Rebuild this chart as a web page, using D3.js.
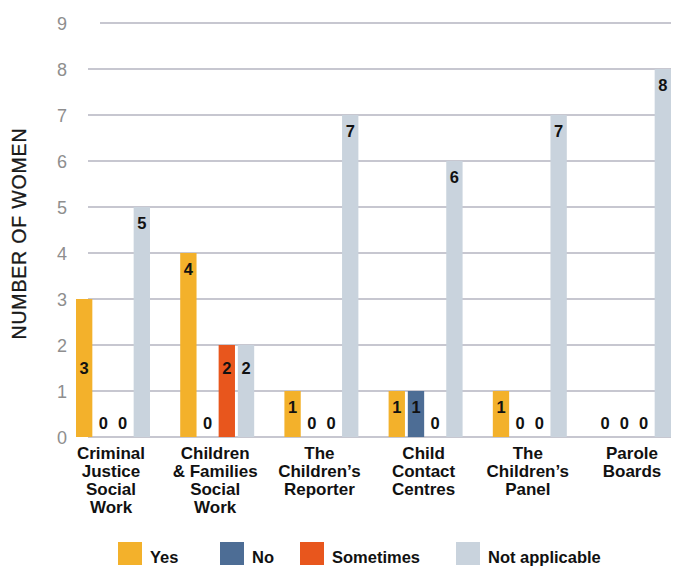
<!DOCTYPE html>
<html>
<head>
<meta charset="utf-8">
<script src="https://cdn.jsdelivr.net/npm/d3@7"></script>
<style>
  html, body { margin: 0; padding: 0; background: #fff; }
  svg { display: block; font-family: "Liberation Sans", Arial, Helvetica, sans-serif; }
</style>
</head>
<body>
<svg id="chart" width="683" height="568"></svg>
<script>
// Responses per service, one value per answer
const categories = [
  "Criminal\nJustice\nSocial\nWork",
  "Children\n& Families\nSocial\nWork",
  "The\nChildren’s\nReporter",
  "Child\nContact\nCentres",
  "The\nChildren’s\nPanel",
  "Parole\nBoards"
];
const seriesNames = ["Yes", "No", "Sometimes", "Not applicable"];
const yesValues = [3, 4, 1, 1, 1, 0];
const noValues = [0, 0, 0, 1, 0, 0];
const sometimesValues = [0, 2, 0, 0, 0, 0];
const notApplicableValues = [5, 2, 7, 6, 7, 8];
const yTicks = [0, 1, 2, 3, 4, 5, 6, 7, 8, 9];

const seriesValues = [yesValues, noValues, sometimesValues, notApplicableValues];
const colors = ["#f3b12b", "#4d6d95", "#e8561d", "#c9d3dd"];

const svg = d3.select("#chart");

const y = d3.scaleLinear().domain([0, 9]).range([437, 23]);
const x0 = d3.scaleBand().domain(d3.range(categories.length))
  .range([76, 671]).paddingInner(0.29).paddingOuter(0);
const x1 = d3.scaleBand().domain(d3.range(seriesNames.length))
  .range([0, x0.bandwidth()]).paddingInner(0.15);

// Horizontal gridlines
svg.append("g").selectAll("line").data(yTicks).join("line")
  .attr("x1", d => d === 9 ? 100 : 88)
  .attr("x2", 671)
  .attr("y1", d => y(d)).attr("y2", d => y(d))
  .attr("stroke", "#b4b4c0").attr("stroke-width", 1.3);

// Y tick labels
svg.append("g").selectAll("text").data(yTicks).join("text")
  .attr("x", 67).attr("y", d => y(d) + 6.5)
  .attr("text-anchor", "end")
  .attr("font-size", 18).attr("fill", "#8e8e8e")
  .text(d => d);

// Y axis title
svg.append("text")
  .attr("transform", "translate(26,234) rotate(-90)")
  .attr("text-anchor", "middle")
  .attr("font-size", 19.5).attr("fill", "#1a1a1a")
  .attr("stroke", "#1a1a1a").attr("stroke-width", 0.3)
  .attr("textLength", 211).attr("lengthAdjust", "spacing")
  .text("NUMBER OF WOMEN");

// Flattened bar records
const bars = [];
categories.forEach((c, ci) => {
  seriesValues.forEach((vals, si) => {
    bars.push({ ci, si, v: vals[ci] });
  });
});

const g = svg.append("g");
g.selectAll("rect").data(bars.filter(d => d.v > 0)).join("rect")
  .attr("x", d => x0(d.ci) + x1(d.si))
  .attr("y", d => y(d.v))
  .attr("width", x1.bandwidth())
  .attr("height", d => y(0) - y(d.v))
  .attr("fill", d => colors[d.si]);

// Value labels: near bar top, zero values sit on the baseline
g.selectAll("text").data(bars).join("text")
  .attr("x", d => x0(d.ci) + x1(d.si) + x1.bandwidth() / 2)
  .attr("y", d => {
    if (d.v === 0) return y(0) - 8;
    if (d.ci === 0 && d.si === 0) return (y(d.v) + y(0)) / 2 + 6;
    if (d.v === 2) return y(d.v) + 29;
    return y(d.v) + 22;
  })
  .attr("text-anchor", "middle")
  .attr("font-size", 16.5).attr("font-weight", "bold").attr("fill", "#111")
  .text(d => d.v);

// Category labels
const cat = svg.append("g").selectAll("text").data(categories).join("text")
  .attr("text-anchor", "middle")
  .attr("font-size", 17).attr("font-weight", "bold").attr("fill", "#111")
  .attr("transform", (d, i) => `translate(${x0(i) + x0.bandwidth() / 2 - 2},459)`);
cat.selectAll("tspan").data(d => d.split("\n")).join("tspan")
  .attr("x", 0).attr("dy", (d, i) => i === 0 ? 0 : 18)
  .text(d => d);

// Legend
const legendX = [118, 220, 300, 456];
const legend = svg.append("g").selectAll("g").data(seriesNames).join("g")
  .attr("transform", (d, i) => `translate(${legendX[i]},542)`);
legend.append("rect").attr("width", 24).attr("height", 23)
  .attr("fill", (d, i) => colors[i]);
legend.append("text").attr("x", 32).attr("y", 21)
  .attr("font-size", 16.5).attr("font-weight", "bold").attr("fill", "#111")
  .text(d => d);
</script>
</body>
</html>
